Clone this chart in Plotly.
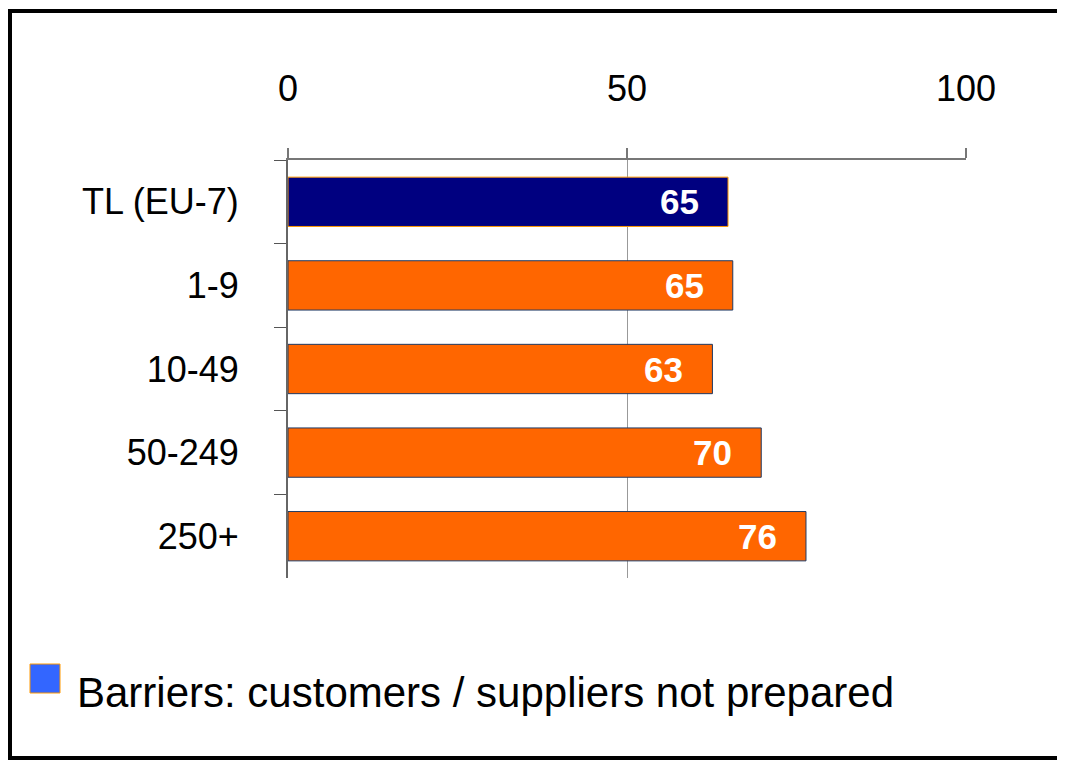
import plotly.graph_objects as go

categories = ["TL (EU-7)", "1-9", "10-49", "50-249", "250+"]
values = [64.9, 65.6, 62.6, 69.8, 76.4]
value_labels = ["65", "65", "63", "70", "76"]
bar_colors = ["#000080", "#FF6600", "#FF6600", "#FF6600", "#FF6600"]
bar_edge_colors = ["#FF9900", "#1F3A64", "#1F3A64", "#1F3A64", "#1F3A64"]
x_ticks = [0, 50, 100]
legend_label = "Barriers: customers / suppliers not prepared"

W, H = 1065, 762
OFF = 8  # page body margin
L, T = 288 - OFF, 160 - OFF
R = W - (966 - OFF)
B = H - (578 - OFF)
PW, PH = W - L - R, H - T - B


def px(x):
    return (x - OFF - L) / PW


def py(y):
    return (H - B - (y - OFF)) / PH


fig = go.Figure()
fig.add_trace(go.Bar(
    x=values, y=categories, orientation="h",
    marker=dict(color=bar_colors, line=dict(color=bar_edge_colors, width=1)),
    width=0.59, showlegend=False, hoverinfo="skip",
))

for v, c, t in zip(values, categories, value_labels):
    fig.add_annotation(x=v, y=c, xref="x", yref="y", text=t, showarrow=False,
                       xanchor="right", yanchor="middle", xshift=-27, yshift=0,
                       font=dict(family="Arial, Liberation Sans", size=35, color="white", weight="bold"))

# legend (drawn)
fig.add_shape(type="rect", xref="paper", yref="paper",
              x0=px(30), x1=px(60), y0=py(664), y1=py(693),
              fillcolor="#3366FF", line=dict(color="#FF9900", width=1))
fig.add_annotation(xref="paper", yref="paper", x=px(75), y=py(692), text=legend_label,
                   showarrow=False, xanchor="left", yanchor="middle",
                   font=dict(family="Arial, Liberation Sans", size=42, color="black"))

# outer frame
fig.add_shape(type="rect", xref="paper", yref="paper",
              x0=px(10), x1=px(1080), y0=py(11), y1=py(758),
              line=dict(color="black", width=4), fillcolor="rgba(0,0,0,0)", layer="above")

fig.update_layout(
    width=W, height=H,
    margin=dict(l=L, r=R, t=T, b=B, pad=0),
    paper_bgcolor="white", plot_bgcolor="white",
    font=dict(family="Arial, Liberation Sans", color="black"),
    xaxis=dict(side="top", range=[0, 100], tickvals=x_ticks, ticktext=[str(v) for v in x_ticks],
               showgrid=True, gridcolor="#999999", gridwidth=1,
               showline=True, linecolor="#777777", linewidth=2,
               ticks="outside", ticklen=10, tickcolor="#777777", tickwidth=2,
               ticklabelstandoff=33, tickfont=dict(size=36), zeroline=False, fixedrange=True),
    yaxis=dict(categoryorder="array", categoryarray=categories, autorange="reversed",
               tickson="boundaries", ticks="outside", ticklen=12, tickcolor="#555555", tickwidth=1,
               showline=True, linecolor="#666666", linewidth=2, showgrid=False,
               ticklabelstandoff=40, tickfont=dict(size=36), fixedrange=True),
    bargap=0.41,
)

fig.write_html("out.html")
